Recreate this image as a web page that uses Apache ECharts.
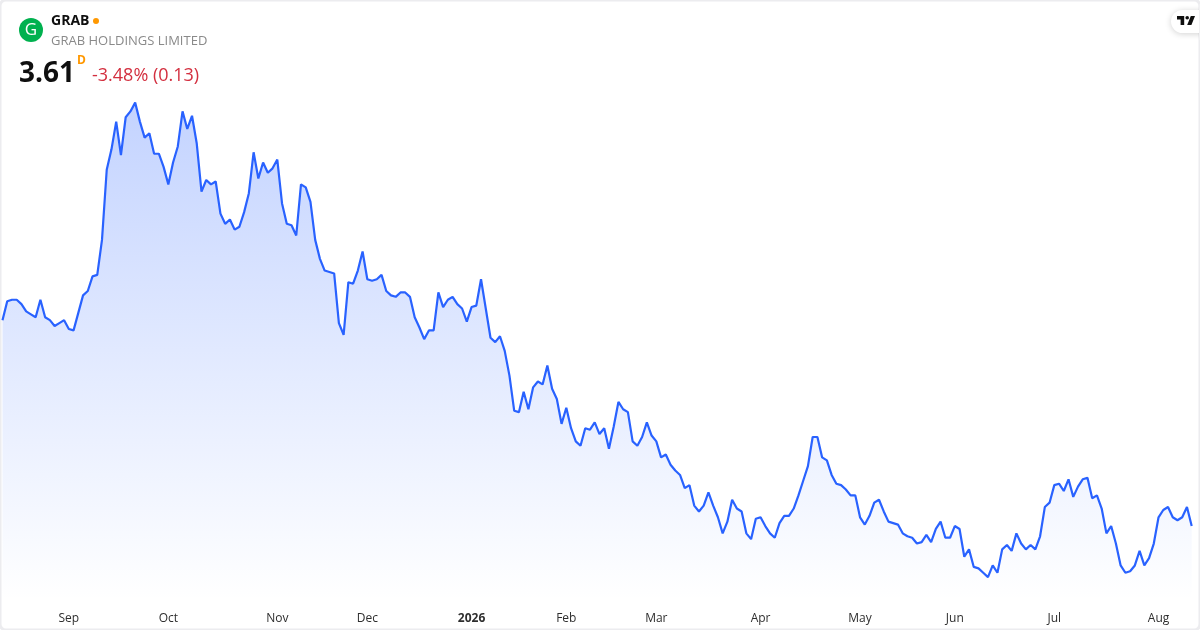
<!DOCTYPE html>
<html>
<head>
<meta charset="utf-8">
<style>html,body{margin:0;padding:0;background:#fff}#c{width:1200px;height:630px}</style>
<script src="https://cdn.jsdelivr.net/npm/echarts@6/dist/echarts.min.js"></script>
</head>
<body>
<div id="c"></div>
<script>
const ticker = 'GRAB';
const company = 'GRAB HOLDINGS LIMITED';
const lastPrice = '3.61';
const interval = 'D';
const change = '-3.48% (0.13)';
const closes = [
5.02,5.15,5.16,5.16,5.13,5.08,5.06,5.04,5.16,5.04,5.02,4.98,5.00,5.02,4.96,4.95,5.07,5.19,5.22,5.32,
5.33,5.57,6.05,6.19,6.38,6.15,6.41,6.45,6.51,6.38,6.27,6.30,6.16,6.16,6.07,5.95,6.10,6.21,6.45,6.33,
6.42,6.23,5.90,5.98,5.95,5.97,5.75,5.68,5.71,5.64,5.66,5.76,5.89,6.17,5.99,6.10,6.03,6.06,6.12,5.82,
5.68,5.67,5.60,5.95,5.93,5.83,5.57,5.44,5.36,5.35,5.34,5.00,4.92,5.28,5.27,5.36,5.49,5.30,5.29,5.30,
5.33,5.22,5.19,5.18,5.21,5.21,5.18,5.04,4.97,4.89,4.95,4.95,5.21,5.11,5.16,5.18,5.13,5.10,5.01,5.11,
5.12,5.30,5.10,4.90,4.87,4.91,4.81,4.64,4.40,4.39,4.53,4.41,4.56,4.60,4.58,4.71,4.55,4.48,4.31,4.42,
4.28,4.19,4.16,4.28,4.27,4.32,4.24,4.28,4.14,4.29,4.46,4.41,4.39,4.19,4.16,4.22,4.32,4.23,4.19,4.08,
4.10,4.03,3.99,3.96,3.87,3.89,3.75,3.71,3.75,3.84,3.75,3.67,3.56,3.64,3.79,3.73,3.71,3.56,3.52,3.66,
3.67,3.61,3.56,3.53,3.63,3.68,3.68,3.73,3.82,3.92,4.02,4.22,4.22,4.08,4.06,3.96,3.90,3.89,3.86,3.82,
3.82,3.67,3.62,3.68,3.77,3.79,3.71,3.64,3.63,3.62,3.56,3.54,3.53,3.49,3.50,3.55,3.50,3.59,3.64,3.53,
3.53,3.61,3.59,3.40,3.45,3.33,3.32,3.29,3.26,3.34,3.29,3.45,3.48,3.44,3.56,3.49,3.45,3.48,3.45,3.54,
3.74,3.77,3.89,3.90,3.85,3.93,3.81,3.88,3.93,3.94,3.80,3.82,3.73,3.56,3.61,3.49,3.34,3.29,3.30,3.34,
3.44,3.34,3.39,3.49,3.67,3.72,3.74,3.67,3.65,3.67,3.74,3.61
];
const tickIndex = [14,35,58,77,99,119,138,160,181,201,222,244];
const tickLabels = ['Sep','Oct','Nov','Dec','2026','Feb','Mar','Apr','May','Jun','Jul','Aug'];
const categories = closes.map((_, i) => {
  const k = tickIndex.indexOf(i);
  return k >= 0 ? tickLabels[k] : 'd' + i;
});
const FONT = '"Open Sans", sans-serif';
const tvScale = 0.6, tvX = 1175.8, tvY = 12.4;
const tv = (pts) => pts.map(([a, b]) => [tvX + a * tvScale, tvY + b * tvScale]);
const chart = echarts.init(document.getElementById('c'), null, {renderer:'canvas'});
chart.setOption({
  animation:false,
  backgroundColor:'#ffffff',
  grid:{left:2.5,right:8.3,top:89.5,height:511,containLabel:false},
  xAxis:{
    type:'category',data:categories,boundaryGap:false,
    axisLine:{show:false},axisTick:{show:false},splitLine:{show:false},
    axisLabel:{
      margin:12,hideOverlap:false,
      interval:(i)=>tickIndex.includes(i),
      color:'#2e2e2e',fontFamily:FONT,fontSize:12,
      formatter:(v)=>v==='2026'?'{b|2026}':v,
      rich:{b:{fontWeight:'bold',fontFamily:FONT,fontSize:12,color:'#2e2e2e'}}
    }
  },
  yAxis:{type:'value',min:3.1,max:6.6,show:false,splitLine:{show:false}},
  series:[{
    type:'line',data:closes,symbol:'none',smooth:false,
    lineStyle:{color:'#2962ff',width:2.2},
    itemStyle:{color:'#2962ff'},
    areaStyle:{opacity:1,color:{type:'linear',x:0,y:0,x2:0,y2:1,colorStops:[
      {offset:0,color:'rgba(41,98,255,0.28)'},{offset:1,color:'rgba(41,98,255,0)'}]}}
  }],
  graphic:[
    {type:'rect',silent:true,shape:{x:0,y:0,width:1200,height:630,r:6},style:{fill:'none',stroke:'#ececef',lineWidth:3}},
    {type:'circle',silent:true,shape:{cx:31,cy:30,r:12},style:{fill:'#00b14f'}},
    {type:'text',silent:true,x:31,y:30,style:{text:'G',fill:'#ffffff',font:'17px '+FONT,textAlign:'center',textVerticalAlign:'middle'}},
    {type:'text',silent:true,x:51,y:21,style:{text:ticker,fill:'#0f0f0f',font:'bold 14px '+FONT,textVerticalAlign:'middle'}},
    {type:'circle',silent:true,shape:{cx:96,cy:21,r:3},style:{fill:'#ff9800'}},
    {type:'text',silent:true,x:51,y:41,style:{text:company,fill:'#8a8a8a',font:'13px '+FONT,textVerticalAlign:'middle'}},
    {type:'text',silent:true,x:19,y:74,style:{text:lastPrice,fill:'#0f0f0f',font:'bold 28px '+FONT,textVerticalAlign:'middle'}},
    {type:'text',silent:true,x:77,y:61,style:{text:interval,fill:'#ff9800',font:'bold 12px '+FONT,textVerticalAlign:'middle'}},
    {type:'text',silent:true,x:92,y:76,style:{text:change,fill:'#d32f3f',font:'18px '+FONT,textVerticalAlign:'middle'}},
    {type:'rect',silent:true,shape:{x:1171,y:10,width:40,height:23,r:12},style:{fill:'#ffffff',shadowBlur:6,shadowColor:'rgba(0,0,0,0.18)',shadowOffsetY:1}},
    {type:'rect',silent:true,shape:{x:1199,y:4,width:1,height:36},style:{fill:'#f0f0f2'}},
    {type:'polygon',silent:true,shape:{points:tv([[2,6],[14,6],[14,21],[8,21],[8,12],[2,12]])},style:{fill:'#0f0f0f'}},
    {type:'polygon',silent:true,shape:{points:tv([[26,21],[19,21],[25,6],[32,6]])},style:{fill:'#0f0f0f'}},
    {type:'circle',silent:true,shape:{cx:tvX+19*tvScale,cy:tvY+9*tvScale,r:3*tvScale},style:{fill:'#0f0f0f'}}
  ]
});
</script>
</body>
</html>
